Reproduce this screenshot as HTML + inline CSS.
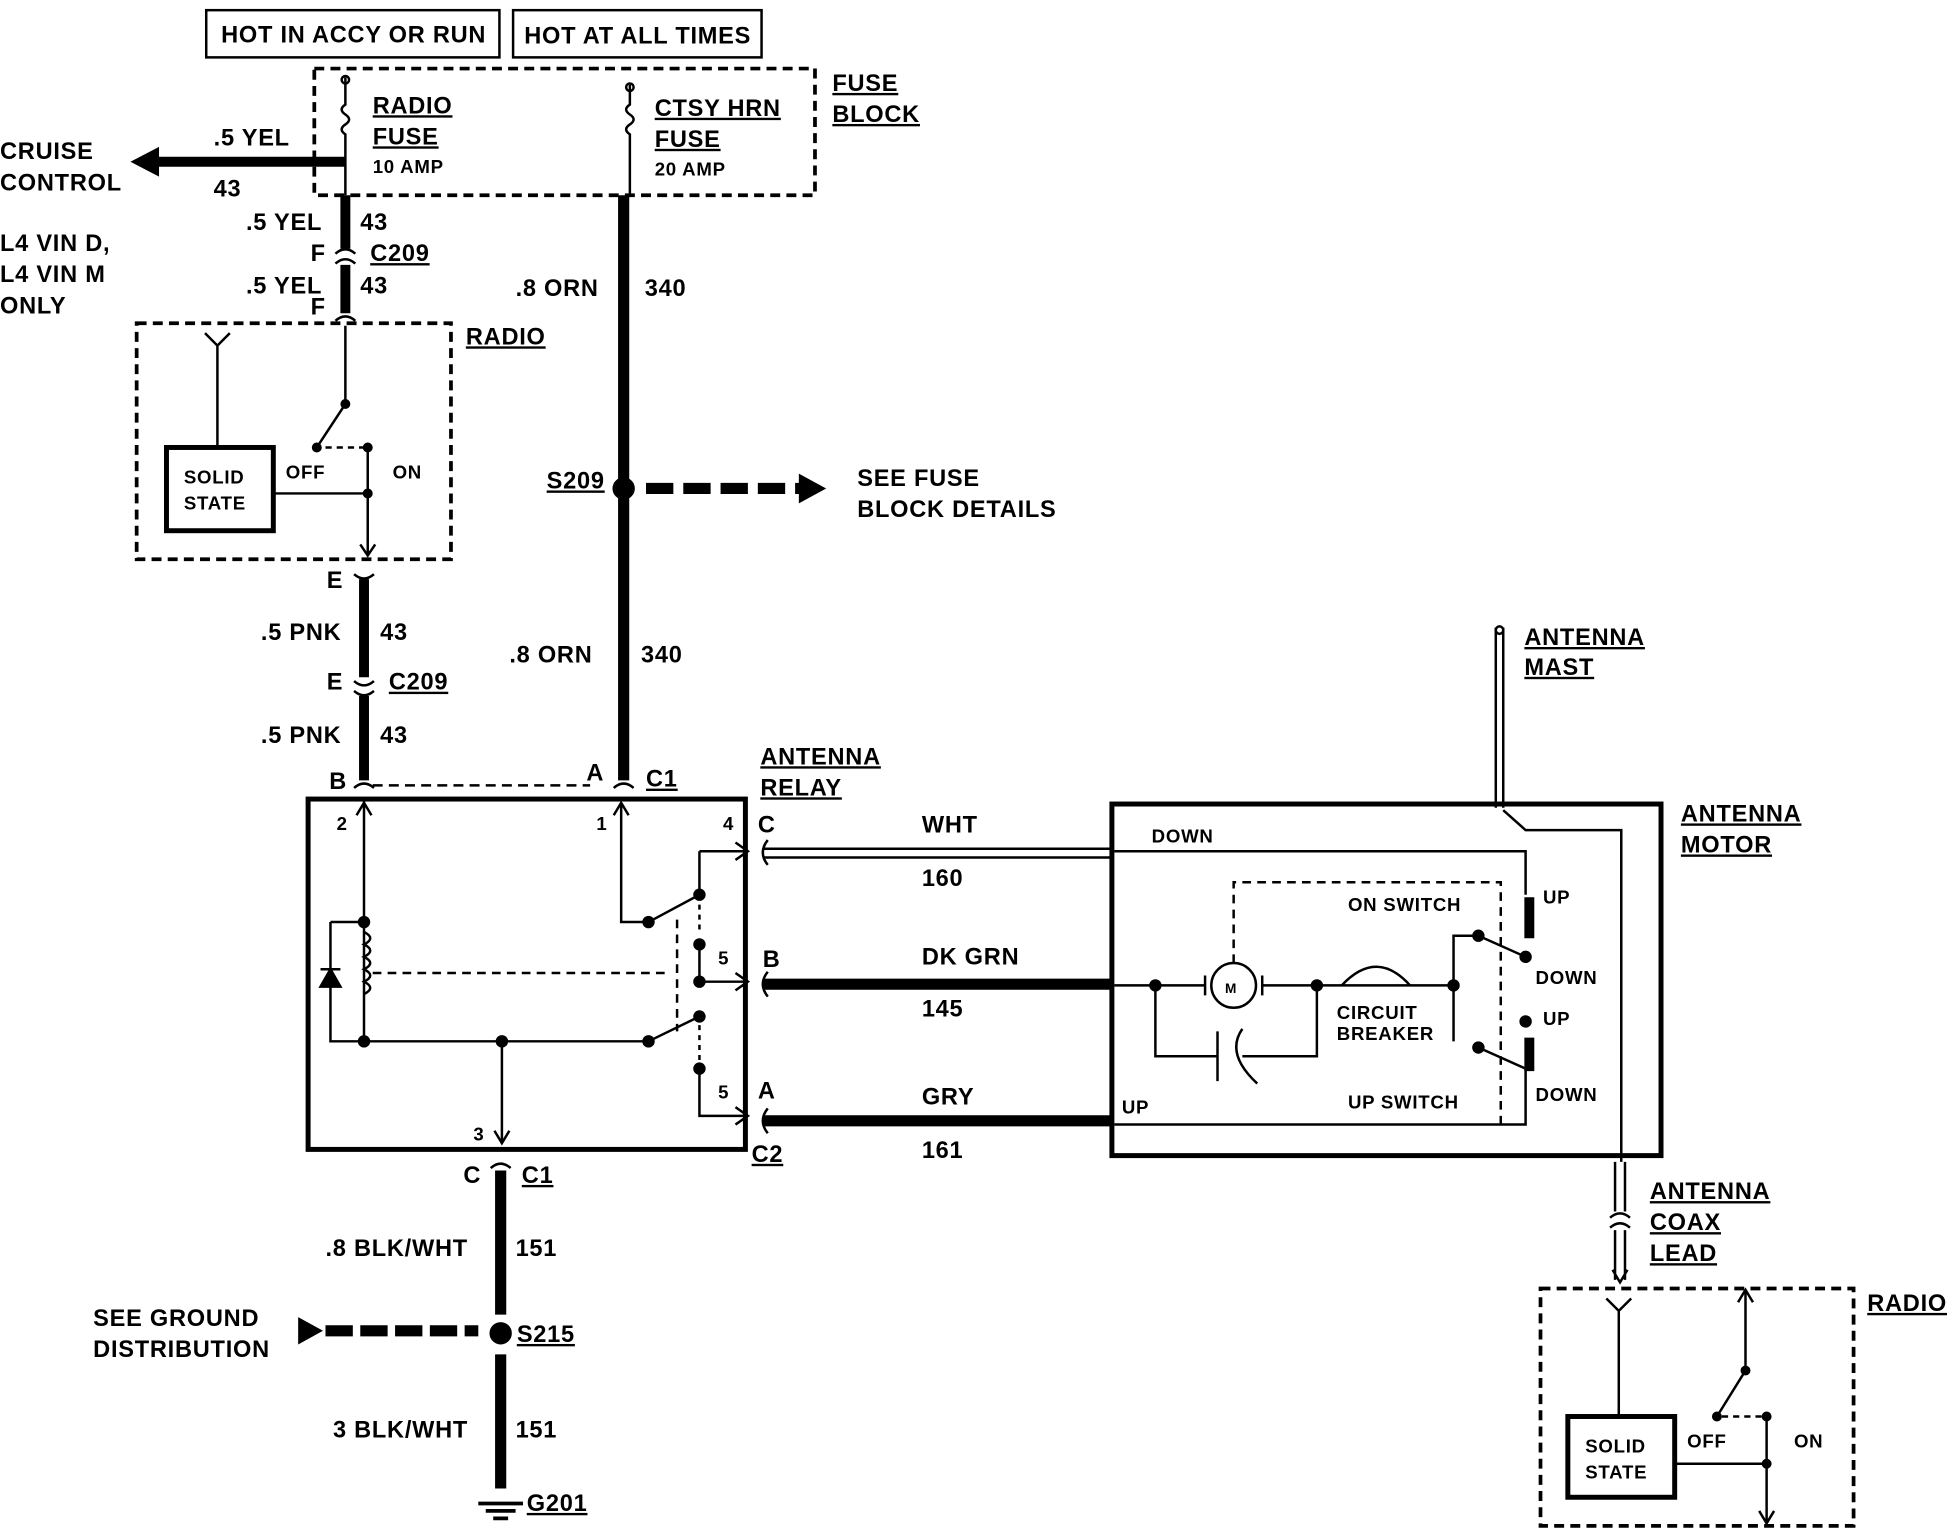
<!DOCTYPE html>
<html><head><meta charset="utf-8"><style>
html,body{margin:0;padding:0;background:#fff;}
svg{display:block;}
text{font-family:"Liberation Sans",Arial,sans-serif;font-weight:bold;font-size:19px;fill:#000;letter-spacing:0.6px;}
.s{font-size:15px;}
.u{text-decoration:underline;}
</style></head><body>
<svg width="1948" height="1536" viewBox="0 0 1568 1236" xmlns="http://www.w3.org/2000/svg">
<g fill="none" stroke="#000" stroke-width="2">
<rect x="166" y="8" width="236" height="38"/>
<rect x="413" y="8" width="200" height="38"/>
<rect x="253" y="55" width="403" height="102" stroke-dasharray="8,5" stroke-width="3"/>
<path d="M278 62 V84 q-6 4 0 8 q6 4 0 8 q-6 4 0 8 V157"/>
<path d="M507 68 V84 q-6 4 0 8 q6 4 0 8 q-6 4 0 8 V157"/>
<circle cx="278" cy="64" r="3"/><circle cx="507" cy="70" r="3"/>
<line x1="278" y1="130" x2="120" y2="130" stroke-width="8"/>
<line x1="278" y1="157" x2="278" y2="200" stroke-width="8"/>
<line x1="278" y1="213" x2="278" y2="252" stroke-width="8"/>
<path d="M270 204 q8 -7 16 0 M270 212 q8 -7 16 0 M270 258 q8 -7 16 0"/>
<rect x="110" y="260" width="253" height="190" stroke-dasharray="8,5" stroke-width="3"/>
<path d="M175 360 V278 M165 268 L175 278 L185 268"/>
<rect x="134" y="360" width="86" height="67" stroke-width="4"/>
<path d="M278 262 V325 L255 360"/>
<path d="M262 360 H296" stroke-dasharray="5,4"/>
<path d="M296 360 V445 M220 397 H296 M290 438 L296 447 L302 438"/>
<circle cx="296" cy="360" r="3" fill="#000"/><circle cx="296" cy="397" r="3" fill="#000"/><circle cx="255" cy="360" r="3" fill="#000"/><circle cx="278" cy="325" r="3" fill="#000"/>
<path d="M285 462 q8 7 16 0"/>
<line x1="293" y1="466" x2="293" y2="545" stroke-width="8"/>
<path d="M285 548 q8 7 16 0 M285 556 q8 7 16 0"/>
<line x1="293" y1="560" x2="293" y2="628" stroke-width="8"/>
<path d="M285 634 q8 -7 16 0"/>
<path d="M300 632 H475" stroke-dasharray="8,5"/>
<line x1="502" y1="157" x2="502" y2="628" stroke-width="9"/>
<path d="M494 634 q8 -7 16 0"/>
<circle cx="502" cy="393" r="8" fill="#000"/>
<path d="M520 393 H645" stroke-width="9" stroke-dasharray="22,8"/>
<rect x="248" y="643" width="352" height="282" stroke-width="4"/>
<path d="M293 645 V838 H522 M287 656 L293 646 L299 656"/>
<path d="M266 742 H293 M266 742 V838 H293"/>
<path d="M293 750 q10 5 0 10 q10 5 0 10 q10 5 0 10 q10 5 0 10 q10 5 0 10"/>
<path d="M300 783 H540 M545 740 V830" stroke-dasharray="7,5"/>
<path d="M404 838 V920 M398 910 L404 920 L410 910"/>
<path d="M500 648 V742 H522 L563 720 M494 656 L500 646 L506 656"/>
<path d="M522 838 L563 818"/>
<path d="M563 685 H600 M563 685 V720 M563 760 V790 H600 M563 860 V898 H600"/>
<path d="M563 728 V752 M563 825 V855" stroke-dasharray="4,4"/>
<circle cx="293" cy="742" r="4" fill="#000"/><circle cx="293" cy="838" r="4" fill="#000"/><circle cx="404" cy="838" r="4" fill="#000"/>
<circle cx="522" cy="742" r="4" fill="#000"/><circle cx="522" cy="838" r="4" fill="#000"/>
<circle cx="563" cy="720" r="4" fill="#000"/><circle cx="563" cy="760" r="4" fill="#000"/><circle cx="563" cy="790" r="4" fill="#000"/><circle cx="563" cy="818" r="4" fill="#000"/><circle cx="563" cy="860" r="4" fill="#000"/>
<path d="M266 780 l-8 14 h16 z M258 780 h16" fill="#000"/>
<path d="M592 678 L602 685 L592 692 M592 783 L602 790 L592 797 M592 891 L602 898 L592 905"/>
<path d="M618 676 q-8 10 0 20 M618 782 q-8 10 0 20 M618 892 q-8 10 0 20"/>
<path d="M614 683 H895 M614 690 H895"/>
<line x1="614" y1="792" x2="895" y2="792" stroke-width="9"/>
<line x1="614" y1="902" x2="895" y2="902" stroke-width="9"/>
<rect x="895" y="647" width="442" height="283" stroke-width="4"/>
<path d="M1204 505 V650 M1210 505 V650"/>
<circle cx="1207" cy="507" r="3"/>
<path d="M1210 652 L1228 668 H1305 V935"/>
<path d="M897 685 H1228 V720"/>
<path d="M897 793 H970 M1016 793 H1170 V838 M1170 793 V753 H1190"/>
<circle cx="993" cy="793" r="18"/>
<path d="M970 785 v16 M1016 785 v16"/>
<path d="M930 793 V850 H980 M1000 850 H1060 V793 M980 830 V870 M1000 828 q-14 20 12 44"/>
<path d="M1080 793 q28 -30 55 0"/>
<path d="M993 775 V710 H1208 V905" stroke-dasharray="7,5"/>
<path d="M1190 753 L1228 770 M1190 843 L1228 860"/>
<path d="M1228 860 V905 H897"/>
<line x1="1231" y1="722" x2="1231" y2="755" stroke-width="8"/>
<line x1="1231" y1="835" x2="1231" y2="862" stroke-width="8"/>
<circle cx="930" cy="793" r="4" fill="#000"/><circle cx="1060" cy="793" r="4" fill="#000"/><circle cx="1170" cy="793" r="4" fill="#000"/>
<circle cx="1228" cy="770" r="4" fill="#000"/><circle cx="1190" cy="753" r="4" fill="#000"/><circle cx="1190" cy="843" r="4" fill="#000"/><circle cx="1228" cy="822" r="4" fill="#000"/>
<path d="M1300 935 V975 M1308 935 V975 M1296 980 q8 -7 16 0 M1296 988 q8 -7 16 0 M1300 990 V1030 M1308 990 V1030 M1298 1022 L1304 1032 L1310 1022"/>
<rect x="1240" y="1037" width="252" height="191" stroke-dasharray="8,5" stroke-width="3"/>
<path d="M1303 1140 V1055 M1293 1045 L1303 1055 L1313 1045"/>
<rect x="1262" y="1140" width="86" height="65" stroke-width="4"/>
<path d="M1405 1040 V1103 L1382 1140 M1399 1048 L1405 1038 L1411 1048"/>
<path d="M1386 1140 H1422" stroke-dasharray="5,4"/>
<path d="M1422 1140 V1225 M1348 1178 H1422 M1416 1216 L1422 1226 L1428 1216"/>
<circle cx="1422" cy="1140" r="3" fill="#000"/><circle cx="1422" cy="1178" r="3" fill="#000"/><circle cx="1382" cy="1140" r="3" fill="#000"/><circle cx="1405" cy="1103" r="3" fill="#000"/>
<path d="M395 940 q8 -7 16 0"/>
<line x1="403" y1="942" x2="403" y2="1058" stroke-width="9"/>
<circle cx="403" cy="1073" r="8" fill="#000"/>
<line x1="403" y1="1090" x2="403" y2="1198" stroke-width="9"/>
<path d="M385 1210 H421 M391 1216 H415 M397 1222 H409" stroke-width="3"/>
<path d="M262 1071 H385" stroke-width="9" stroke-dasharray="22,6"/>
</g>
<path d="M105 130 L128 118 L128 142 Z"/>
<path d="M665 393 L643 381 L643 405 Z"/>
<path d="M260 1071 L240 1060 L240 1082 Z"/>
<text x="178" y="34">HOT IN ACCY OR RUN</text>
<text x="422" y="35">HOT AT ALL TIMES</text>
<text x="670" y="73" class="u">FUSE</text><text x="670" y="98" class="u">BLOCK</text>
<text x="300" y="91" class="u">RADIO</text><text x="300" y="116" class="u">FUSE</text><text x="300" y="139" class="s">10 AMP</text>
<text x="527" y="93" class="u">CTSY HRN</text><text x="527" y="118" class="u">FUSE</text><text x="527" y="141" class="s">20 AMP</text>
<text x="172" y="117">.5 YEL</text><text x="172" y="158">43</text>
<text x="0" y="128">CRUISE</text><text x="0" y="153">CONTROL</text>
<text x="198" y="185">.5 YEL</text><text x="290" y="185">43</text>
<text x="250" y="210">F</text><text x="298" y="210" class="u">C209</text>
<text x="198" y="236">.5 YEL</text><text x="290" y="236">43</text>
<text x="250" y="253">F</text>
<text x="0" y="202">L4 VIN D,</text><text x="0" y="227">L4 VIN M</text><text x="0" y="252">ONLY</text>
<text x="375" y="277" class="u">RADIO</text>
<text x="148" y="389" class="s">SOLID</text><text x="148" y="410" class="s">STATE</text>
<text x="230" y="385" class="s">OFF</text><text x="316" y="385" class="s">ON</text>
<text x="263" y="473">E</text>
<text x="210" y="515">.5 PNK</text><text x="306" y="515">43</text>
<text x="263" y="555">E</text><text x="313" y="555" class="u">C209</text>
<text x="210" y="598">.5 PNK</text><text x="306" y="598">43</text>
<text x="265" y="635">B</text><text x="472" y="628">A</text><text x="520" y="633" class="u">C1</text>
<text x="415" y="238">.8 ORN</text><text x="519" y="238">340</text>
<text x="440" y="393" class="u">S209</text>
<text x="690" y="391">SEE FUSE</text><text x="690" y="416">BLOCK DETAILS</text>
<text x="410" y="533">.8 ORN</text><text x="516" y="533">340</text>
<text x="612" y="615" class="u">ANTENNA</text><text x="612" y="640" class="u">RELAY</text>
<text x="271" y="668" class="s">2</text><text x="480" y="668" class="s">1</text><text x="582" y="668" class="s">4</text>
<text x="578" y="776" class="s">5</text><text x="578" y="884" class="s">5</text><text x="381" y="918" class="s">3</text>
<text x="610" y="670">C</text><text x="614" y="778">B</text><text x="610" y="884">A</text><text x="605" y="935" class="u">C2</text>
<text x="742" y="670">WHT</text><text x="742" y="713">160</text>
<text x="742" y="776">DK GRN</text><text x="742" y="818">145</text>
<text x="742" y="889">GRY</text><text x="742" y="932">161</text>
<text x="1227" y="519" class="u">ANTENNA</text><text x="1227" y="543" class="u">MAST</text>
<text x="1353" y="661" class="u">ANTENNA</text><text x="1353" y="686" class="u">MOTOR</text>
<text x="927" y="678" class="s">DOWN</text>
<text x="1085" y="733" class="s">ON SWITCH</text>
<text x="1242" y="727" class="s">UP</text><text x="1236" y="792" class="s">DOWN</text>
<text x="1242" y="825" class="s">UP</text><text x="1236" y="886" class="s">DOWN</text>
<text x="986" y="799" style="font-size:11px">M</text>
<text x="1076" y="820" class="s">CIRCUIT</text><text x="1076" y="837" class="s">BREAKER</text>
<text x="1085" y="892" class="s">UP SWITCH</text>
<text x="903" y="896" class="s">UP</text>
<text x="1328" y="965" class="u">ANTENNA</text><text x="1328" y="990" class="u">COAX</text><text x="1328" y="1015" class="u">LEAD</text>
<text x="1503" y="1055" class="u">RADIO</text>
<text x="1276" y="1169" class="s">SOLID</text><text x="1276" y="1190" class="s">STATE</text>
<text x="1358" y="1165" class="s">OFF</text><text x="1444" y="1165" class="s">ON</text>
<text x="373" y="952">C</text><text x="420" y="952" class="u">C1</text>
<text x="262" y="1011">.8 BLK/WHT</text><text x="415" y="1011">151</text>
<text x="75" y="1067">SEE GROUND</text><text x="75" y="1092">DISTRIBUTION</text>
<text x="416" y="1080" class="u">S215</text>
<text x="268" y="1157">3 BLK/WHT</text><text x="415" y="1157">151</text>
<text x="424" y="1216" class="u">G201</text>
</svg>
</body></html>
